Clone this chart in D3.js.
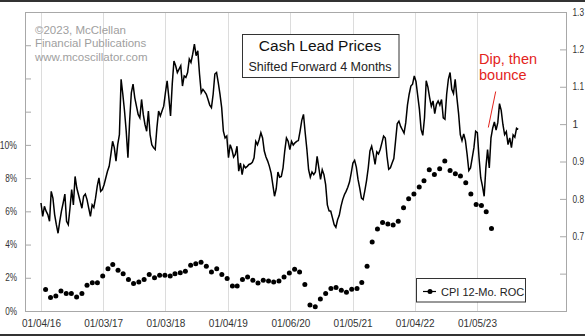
<!DOCTYPE html>
<html>
<head>
<meta charset="utf-8">
<script src="https://cdn.jsdelivr.net/npm/d3@7"></script>
<style>
  html, body { margin: 0; padding: 0; background: #fff; }
  svg { display: block; font-family: "Liberation Sans", Arial, sans-serif; }
</style>
</head>
<body>
<svg id="chart" width="585" height="336"></svg>
<script>
// ---------------- DATA ----------------
// Cash lead price (right axis), shifted forward 4 months; one reading every 10 days
const leadStart = "2016-01-04";
const leadStepDays = 10;
const leadValues = [
  0.789,0.753,0.780,0.767,0.758,0.740,0.820,0.802,0.758,0.731,
  0.708,0.740,0.767,0.789,0.813,0.740,0.731,0.775,0.825,0.784,
  0.860,0.829,0.811,0.793,0.775,0.807,0.813,0.798,0.775,0.753,
  0.784,0.777,0.802,0.834,0.856,0.820,0.825,0.838,0.856,0.874,
  0.887,0.919,0.954,0.937,0.901,0.945,0.972,1.120,1.080,1.035,
  0.981,0.910,1.008,1.084,1.107,1.071,1.048,1.026,1.017,1.066,
  1.026,0.999,0.981,1.035,0.972,0.945,0.937,0.932,0.990,1.035,
  1.022,1.035,1.048,1.084,1.116,1.071,1.022,1.107,1.169,1.156,
  1.138,1.147,1.156,1.102,1.129,1.125,1.138,1.174,1.165,1.187,
  1.214,1.183,1.196,1.134,1.084,1.093,1.087,1.080,1.066,1.051,
  1.044,1.080,1.134,1.138,1.111,1.080,1.044,0.981,0.963,0.968,
  0.910,0.945,0.932,0.912,0.919,0.941,0.874,0.896,0.865,0.890,
  0.883,0.887,0.892,0.894,0.898,0.910,0.954,0.945,0.959,0.977,
  0.963,0.928,0.912,0.901,0.887,0.869,0.838,0.807,0.827,0.872,
  0.858,0.860,0.883,0.928,0.963,0.954,0.932,0.954,0.944,0.950,
  0.954,0.956,0.981,1.010,1.026,0.977,0.932,0.878,0.858,0.872,
  0.865,0.872,0.914,0.883,0.852,0.878,0.865,0.838,0.784,0.768,
  0.767,0.749,0.731,0.724,0.744,0.756,0.780,0.798,0.811,0.820,
  0.831,0.845,0.869,0.896,0.903,0.885,0.852,0.829,0.802,0.798,
  0.822,0.849,0.883,0.928,0.941,0.919,0.892,0.926,0.920,0.932,
  0.950,0.968,0.963,0.914,0.879,0.883,0.896,0.908,0.954,1.001,
  1.008,0.994,0.985,0.976,1.004,1.051,1.080,1.102,1.107,1.129,
  1.114,1.077,1.040,0.986,0.970,1.017,1.116,1.099,1.071,1.048,
  1.062,1.028,1.053,1.062,1.051,1.066,1.017,1.013,1.080,1.120,
  1.138,1.093,1.082,1.120,1.071,1.028,0.972,0.956,0.974,0.956,
  0.919,0.876,0.883,0.910,0.937,0.981,0.977,0.910,0.856,0.834,
  0.807,0.883,0.932,0.883,0.963,0.989,1.006,0.984,1.004,1.055,
  1.037,0.999,0.972,0.980,0.945,0.963,0.937,0.971,0.965,0.989,
  0.986
];

// CPI 12-month rate of change (%), monthly from Jan 2016 (left axis)
const cpiStartYear = 2016;
const cpiValues = [
  1.30,0.82,0.90,1.20,1.05,1.05,0.85,1.05,1.55,1.70,1.70,2.10,
  2.55,2.80,2.45,2.25,1.90,1.65,1.75,1.90,2.20,2.00,2.15,2.15,
  2.10,2.25,2.30,2.40,2.75,2.85,2.94,2.69,2.35,2.55,2.19,1.95,
  1.51,1.51,1.89,2.05,1.85,1.69,1.85,1.81,1.75,1.81,2.05,2.29,
  2.51,2.35,1.59,0.36,0.26,0.72,1.06,1.36,1.41,1.25,1.13,1.31,
  1.36,1.71,2.69,4.16,4.94,5.33,5.23,5.17,5.41,6.21,6.76,7.04,
  7.46,7.84,8.50,8.22,8.56,9.03,8.46,8.26,8.12,7.72,7.04,6.41,
  6.35,5.97,4.97
];

const xTickDates = ["2016-01-04","2017-01-03","2018-01-03","2019-01-04",
                    "2020-01-06","2021-01-05","2022-01-04","2023-01-05"];
const leftTicks = [0,2,4,6,8,10,12,14,16,18];
const leftLabelMax = 10;
const rightTicks = [0.5,0.6,0.7,0.8,0.9,1.0,1.1,1.2,1.3];
const rightLabelMin = 0.7;

const titleText = "Cash Lead Prices";
const subtitleText = "Shifted Forward 4 Months";
const creditLines = ["\u00A92023, McClellan", "Financial Publications", "www.mcoscillator.com"];
const noteLines = ["Dip, then", "bounce"];
const legendLabel = "CPI 12-Mo. ROC";

// ---------------- CHART ----------------
const parse = d3.timeParse("%Y-%m-%d");
const tickDates = xTickDates.map(parse);
const leadData = leadValues.map((v, i) => ({ date: d3.timeDay.offset(parse(leadStart), i * leadStepDays), v }));
const cpiData = cpiValues.map((v, i) => ({ date: new Date(cpiStartYear, i + 1, 0), v }));

const L = 25, R = 566, T = 12, B = 311;
const svg = d3.select("#chart");

const x = d3.scaleTime().domain([tickDates[0], tickDates[tickDates.length - 1]]).range([41, 477]);
const yL = d3.scaleLinear().domain([0, 18]).range([B, T]);
const yR = d3.scaleLinear().domain([0.5, 1.3]).range([B, T]);

svg.append("rect").attr("width", 585).attr("height", 336).attr("fill", "#fff");

// vertical gridlines
svg.append("g").selectAll("line").data(tickDates).join("line")
  .attr("x1", d => Math.round(x(d)) + 0.5).attr("x2", d => Math.round(x(d)) + 0.5)
  .attr("y1", T).attr("y2", B)
  .attr("stroke", "#dcdcdc").attr("stroke-width", 1);

// frame
svg.append("rect").attr("x", L + 0.5).attr("y", T + 0.5).attr("width", R - L).attr("height", B - T)
  .attr("fill", "none").attr("stroke", "#a8a8a8");

// credit text
svg.append("g").selectAll("text").data(creditLines).join("text")
  .attr("x", 35).attr("y", (d, i) => 33.5 + i * 13.8)
  .attr("font-size", 11.5).attr("fill", "#a0a0a0").text(d => d);

// left axis
const axL = svg.append("g").attr("transform", `translate(${L},0)`)
  .call(d3.axisLeft(yL).tickValues(leftTicks).tickSize(-6).tickPadding(8)
    .tickFormat(d => d <= leftLabelMax ? d + "%" : ""));
axL.select(".domain").remove();
axL.selectAll("line").attr("stroke", "#a8a8a8");
axL.selectAll("text").attr("font-size", 10).attr("fill", "#333").attr("font-family", "Liberation Sans, Arial")
  .each(function () {
    const s = this.textContent;
    if (s) {
      d3.select(this).attr("textLength", (s.length - 1) * 5.4 + 6.4).attr("lengthAdjust", "spacingAndGlyphs");
    }
  });

// right axis
const axR = svg.append("g").attr("transform", `translate(${R},0)`)
  .call(d3.axisRight(yR).tickValues(rightTicks).tickSize(-6).tickPadding(6.5)
    .tickFormat(d => d >= rightLabelMin - 1e-9 ? d3.format("~g")(d) : ""));
axR.select(".domain").remove();
axR.selectAll("line").attr("stroke", "#a8a8a8");
axR.selectAll("text").attr("font-size", 10).attr("fill", "#333").attr("font-family", "Liberation Sans, Arial")
  .each(function () {
    const s = this.textContent;
    if (s.length > 1) {
      d3.select(this).attr("textLength", 11.5).attr("lengthAdjust", "spacingAndGlyphs");
    }
  });

// bottom axis
const axB = svg.append("g").attr("transform", `translate(0,${B})`)
  .call(d3.axisBottom(x).tickValues(tickDates).tickSize(0).tickPadding(9)
    .tickFormat(d3.timeFormat("%m/%d/%y")));
axB.select(".domain").remove();
axB.selectAll("text").attr("font-size", 10).attr("fill", "#333").attr("font-family", "Liberation Sans, Arial");

// lead line
svg.append("path").datum(leadData)
  .attr("fill", "none").attr("stroke", "#000").attr("stroke-width", 1.5).attr("stroke-linejoin", "miter")
  .attr("d", d3.line().x(d => x(d.date)).y(d => yR(d.v)));

// CPI dots
svg.append("g").selectAll("circle").data(cpiData).join("circle")
  .attr("cx", d => x(d.date)).attr("cy", d => yL(d.v)).attr("r", 2.5).attr("fill", "#000");

// title box
const tb = svg.append("g");
tb.append("rect").attr("x", 242.5).attr("y", 34.5).attr("width", 156.5).attr("height", 43)
  .attr("fill", "#fff").attr("stroke", "#333");
tb.append("text").attr("x", 320).attr("y", 51).attr("text-anchor", "middle")
  .attr("font-size", 15.5).attr("fill", "#111").text(titleText);
tb.append("text").attr("x", 320).attr("y", 71).attr("text-anchor", "middle")
  .attr("font-size", 12.5).attr("fill", "#222").text(subtitleText);

// annotation
svg.append("g").selectAll("text").data(noteLines).join("text")
  .attr("x", 479).attr("y", (d, i) => 63.5 + i * 16.5)
  .attr("font-size", 14.5).attr("fill", "#e3231c").text(d => d);
svg.append("line").attr("x1", 495.7).attr("y1", 91.5).attr("x2", 488.3).attr("y2", 127.5)
  .attr("stroke", "#e3231c").attr("stroke-width", 1);

// legend
const lg = svg.append("g");
lg.append("rect").attr("x", 416.5).attr("y", 278.5).attr("width", 109).attr("height", 23.5)
  .attr("fill", "#fff").attr("stroke", "#333");
lg.append("line").attr("x1", 423).attr("x2", 436).attr("y1", 291.5).attr("y2", 291.5)
  .attr("stroke", "#000").attr("stroke-width", 1.2);
lg.append("circle").attr("cx", 430).attr("cy", 291.5).attr("r", 2.5).attr("fill", "#000");
lg.append("text").attr("x", 441).attr("y", 295.5).attr("font-size", 11).attr("fill", "#222").text(legendLabel);

// dark top / bottom edges
svg.append("rect").attr("x", 0).attr("y", 0).attr("width", 585).attr("height", 2).attr("fill", "#333");
svg.append("rect").attr("x", 0).attr("y", 334).attr("width", 585).attr("height", 2).attr("fill", "#333");
</script>
</body>
</html>
